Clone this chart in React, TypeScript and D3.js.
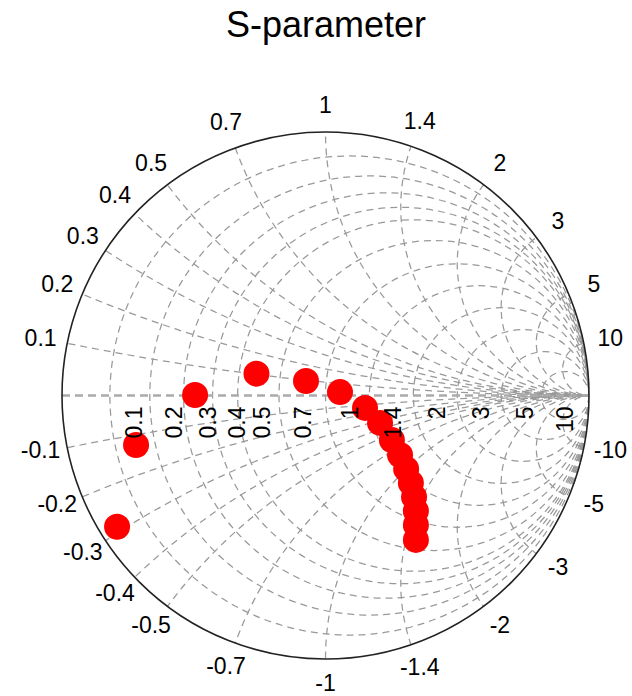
import React from "react";
import * as d3 from "d3";

const TITLE = "S-parameter";
const RESISTANCE_VALUES = [0.1, 0.2, 0.3, 0.4, 0.5, 0.7, 1, 1.4, 2, 3, 5, 10];
const REACTANCE_VALUES = [0.1, 0.2, 0.3, 0.4, 0.5, 0.7, 1, 1.4, 2, 3, 5, 10];
const RESISTANCE_LABELS = ["0.1", "0.2", "0.3", "0.4", "0.5", "0.7", "1", "1.4", "2", "3", "5", "10"];
const REACTANCE_LABELS = ["0.1", "0.2", "0.3", "0.4", "0.5", "0.7", "1", "1.4", "2", "3", "5", "10"];

// reflection coefficient (S11) samples: real and imaginary parts
const S11_RE = [-0.791, -0.719, -0.495, -0.262, -0.074, 0.055, 0.15, 0.207, 0.252, 0.283, 0.306, 0.324, 0.336, 0.343, 0.343, 0.343];
const S11_IM = [-0.498, -0.188, 0.002, 0.083, 0.055, 0.013, -0.047, -0.104, -0.169, -0.226, -0.279, -0.332, -0.385, -0.438, -0.491, -0.548];

const W = 632;
const H = 696;
const CX = 325.5;
const CY = 395.5;
const RAD = 263.5;

export default function App() {
  const sx = d3.scaleLinear().domain([-1, 1]).range([CX - RAD, CX + RAD]);
  const sy = d3.scaleLinear().domain([-1, 1]).range([CY + RAD, CY - RAD]);
  const k = RAD; // px per unit

  const gridColor = "#999999";
  const dash = "7,5";
  const font = "Arial, 'Liberation Sans', sans-serif";

  const reactLabelR = 1.103;

  return (
    <svg
      width={W}
      height={H}
      style={{ position: "absolute", left: 0, top: 0, background: "#fff" }}
      fontFamily={font}
    >
      <defs>
        <clipPath id="unit">
          <circle cx={sx(0)} cy={sy(0)} r={k} />
        </clipPath>
      </defs>
      <rect x={0} y={0} width={W} height={H} fill="#fff" />
      <text x={326} y={37} textAnchor="middle" fontSize={36} fill="#000">
        {TITLE}
      </text>

      <g clipPath="url(#unit)" fill="none" stroke={gridColor} strokeWidth={1.25} strokeDasharray={dash}>
        {RESISTANCE_VALUES.map((r) => (
          <circle key={"r" + r} cx={sx(r / (1 + r))} cy={sy(0)} r={k / (1 + r)} />
        ))}
        {REACTANCE_VALUES.flatMap((x) => [
          <circle key={"xp" + x} cx={sx(1)} cy={sy(1 / x)} r={k / x} />,
          <circle key={"xn" + x} cx={sx(1)} cy={sy(-1 / x)} r={k / x} />,
        ])}
      </g>
      <line
        x1={sx(-1)}
        x2={sx(1)}
        y1={sy(0)}
        y2={sy(0)}
        stroke="#aaaaaa"
        strokeWidth={2.6}
        strokeDasharray="8,5"
      />
      <circle cx={sx(0)} cy={sy(0)} r={k} fill="none" stroke="#222" strokeWidth={1.6} />

      <g fill="#ff0000">
        {S11_RE.map((re, i) => (
          <circle key={"p" + i} cx={sx(re)} cy={sy(S11_IM[i])} r={13} />
        ))}
      </g>

      <g fontSize={23} fill="#000">
        {RESISTANCE_VALUES.map((r, i) => {
          const gx = sx((r - 1) / (r + 1)) + 24;
          const gy = sy(0) + 11;
          return (
            <text
              key={"rl" + r}
              transform={`translate(${gx},${gy}) rotate(-90)`}
              textAnchor="end"
              dominantBaseline="central"
            >
              {RESISTANCE_LABELS[i]}
            </text>
          );
        })}
        {REACTANCE_VALUES.flatMap((x, i) => {
          const th = Math.atan2(2 * x, x * x - 1);
          const px = Math.cos(th) * reactLabelR;
          const py = Math.sin(th) * reactLabelR;
          return [
            <text
              key={"xl" + x}
              x={sx(px)}
              y={sy(py)}
              textAnchor="middle"
              dominantBaseline="central"
            >
              {REACTANCE_LABELS[i]}
            </text>,
            <text
              key={"xln" + x}
              x={sx(px)}
              y={sy(-py) - 3}
              textAnchor="middle"
              dominantBaseline="central"
            >
              {"-" + REACTANCE_LABELS[i]}
            </text>,
          ];
        })}
      </g>
    </svg>
  );
}
